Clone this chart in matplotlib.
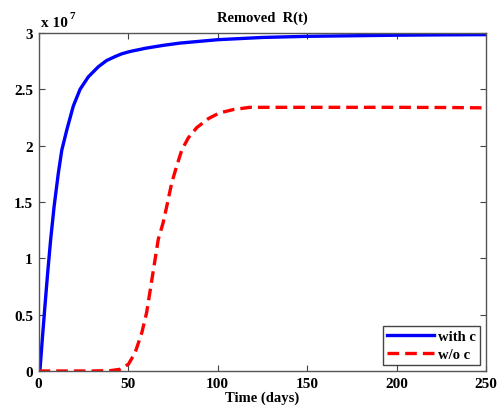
import numpy as np
import matplotlib
matplotlib.use("Agg")
import matplotlib.pyplot as plt

# values, R in units of 1e7
t_with = [0, 0.84, 2.1, 3.6, 5.1, 6.8, 8.7, 11.1, 13, 15.8, 19.4, 23.2, 27.8, 33.4, 38, 42.7, 46.5, 51, 60,
          69.7, 79, 100, 125, 150, 175, 200, 225, 250]
r_with = [0, 0.015, 0.28, 0.58, 0.87, 1.17, 1.46, 1.76, 1.96, 2.14, 2.35, 2.50, 2.61, 2.70, 2.755, 2.79, 2.815,
          2.835, 2.865, 2.89, 2.91, 2.94, 2.96, 2.97, 2.975, 2.98, 2.983, 2.985]

t_wo = [0, 10, 20, 30, 40, 45.5, 50.2, 53.9, 57.7, 60.4, 62.7, 65.1, 66.9, 69.5, 71.6, 74.4, 77.2, 80,
        83.7, 88.4, 94.9, 101, 108.8, 118, 140, 170, 200, 230, 250]
r_wo = [0, 0, 0, 0, 0.003, 0.015, 0.06, 0.16, 0.34, 0.52, 0.75, 0.99, 1.17, 1.31, 1.46, 1.67, 1.82, 1.96,
        2.07, 2.16, 2.24, 2.29, 2.32, 2.34, 2.34, 2.34, 2.34, 2.338, 2.335]

xticks = [0, 50, 100, 150, 200, 250]
yticks = [0, 0.5, 1, 1.5, 2, 2.5, 3]
ytick_labels = ["0", "0.5", "1", "1.5", "2", "2.5", "3"]

plt.rcParams["font.family"] = ["Liberation Serif", "DejaVu Serif"]
plt.rcParams["font.weight"] = "bold"

fig = plt.figure(figsize=(4.99, 4.10), dpi=100)
ax = fig.add_axes([0.0772, 0.0927, 0.897, 0.8245])

ax.plot(t_with, r_with, color="blue", lw=2.4, label="with c", solid_joinstyle="round")
ax.plot(t_wo, r_wo, color="red", lw=2.4, ls=(0, (3.5, 1.8)), label="w/o c")

ax.set_xlim(0, 250)
ax.set_ylim(0, 3)
ax.set_xticks(xticks)
ax.set_yticks(yticks)
ax.set_yticklabels(ytick_labels)
ax.tick_params(direction="in", top=True, right=True, length=4, width=0.8,
               labelsize=11, colors="#444444", labelcolor="black", pad=4)
for lab in ax.get_xticklabels() + ax.get_yticklabels():
    lab.set_fontweight("bold")
for s in ax.spines.values():
    s.set_color("#555555")
    s.set_linewidth(1.0)

ax.set_title("Removed  R(t)", fontsize=10.5, fontweight="bold", pad=9)
ax.set_xlabel("Time (days)", fontsize=10.5, fontweight="bold", labelpad=1)

ax.text(0.005, 1.012, "x 10", transform=ax.transAxes, fontsize=11, fontweight="bold", va="bottom")
ax.text(0.07, 1.038, "7", transform=ax.transAxes, fontsize=8, fontweight="bold", va="bottom")

leg = ax.legend(loc="lower right", handlelength=3.2, fontsize=10.5, borderaxespad=0.4,
                fancybox=False, framealpha=1, edgecolor="#444444", handletextpad=0.3,
                borderpad=0.3, labelspacing=0.3)
leg.get_frame().set_linewidth(1.0)
for txt in leg.get_texts():
    txt.set_fontweight("bold")

fig.savefig("out.png", dpi=100)
